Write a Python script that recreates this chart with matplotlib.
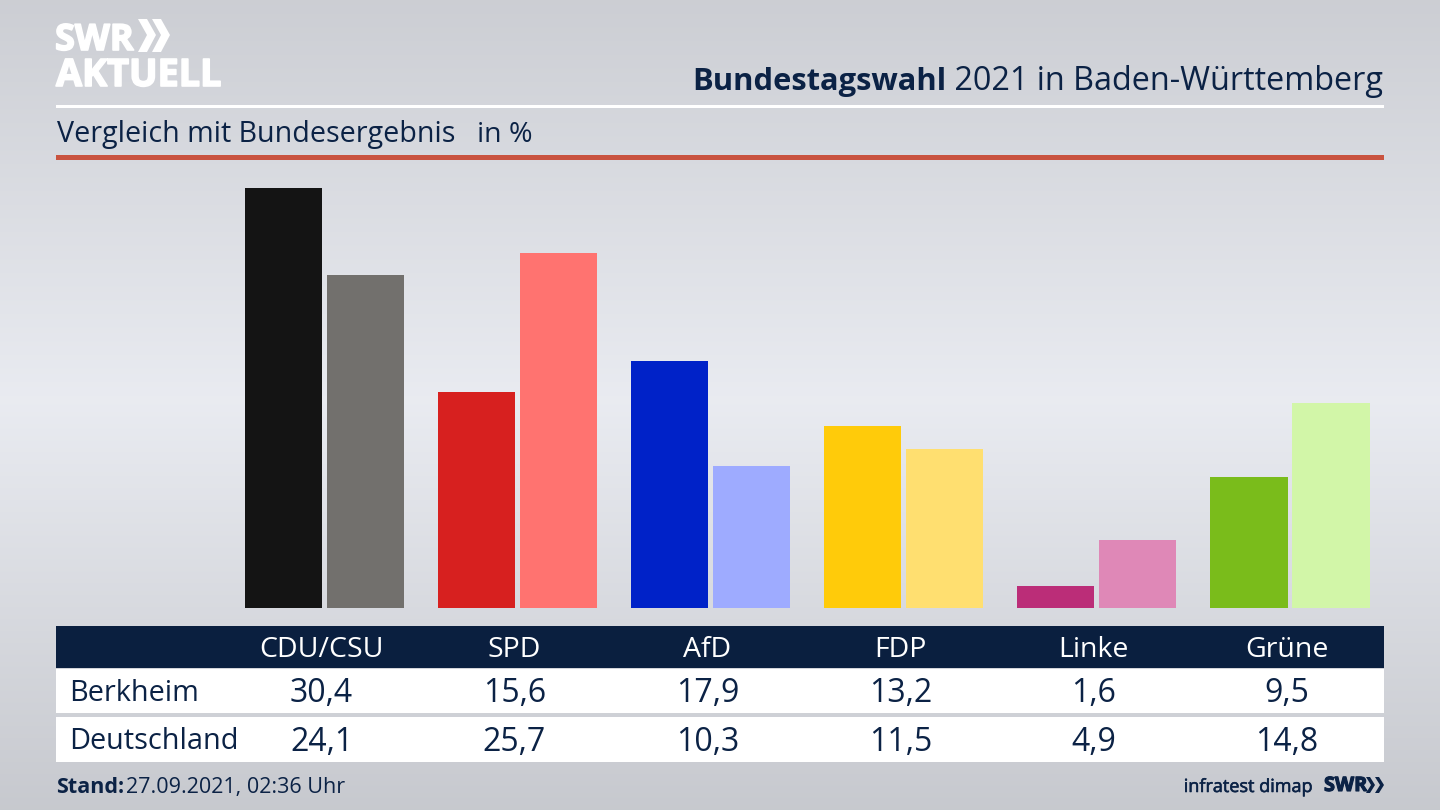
import numpy as np
import matplotlib
matplotlib.use('Agg')
import matplotlib.pyplot as plt
import matplotlib.patheffects as pe
from matplotlib.patches import Rectangle, Polygon

# data
parties = ['CDU/CSU', 'SPD', 'AfD', 'FDP', 'Linke', 'Grüne']
berkheim = [30.4, 15.6, 17.9, 13.2, 1.6, 9.5]
deutschland = [24.1, 25.7, 10.3, 11.5, 4.9, 14.8]
berkheim_labels = ['30,4', '15,6', '17,9', '13,2', '1,6', '9,5']
deutschland_labels = ['24,1', '25,7', '10,3', '11,5', '4,9', '14,8']
colors_dark = ['#141414', '#d7201f', '#0022c8', '#ffcb0a', '#bb2d78', '#7abc1b']
colors_light = ['#72706d', '#ff7370', '#9eabff', '#ffdf70', '#df88b7', '#d2f6a8']

NAVY = '#0b2245'
plt.rcParams['font.family'] = ['Open Sans', 'DejaVu Sans']

fig = plt.figure(figsize=(14.4, 8.1), dpi=100)

# full figure axes in pixels, for background, header and table
bg = fig.add_axes([0, 0, 1, 1])
bg.axis('off')

# background gradient, lightest around the middle
grad_y = [0, 400, 810]
grad_v = [0.80, 0.915, 0.78]
rows = np.interp(np.arange(810), grad_y, grad_v)
img = np.zeros((810, 1, 3))
img[:, 0, 0] = rows
img[:, 0, 1] = rows + 0.008
img[:, 0, 2] = rows + 0.03
bg.imshow(np.clip(img, 0, 1), extent=(0, 1440, 810, 0), aspect='auto', zorder=0)
bg.set_xlim(0, 1440)
bg.set_ylim(810, 0)

# logo
thick = [pe.withStroke(linewidth=1.2, foreground='white')]
bg.text(55, 50, 'SWR', color='white', fontsize=26, fontweight='bold', va='baseline', path_effects=thick)
bg.text(56, 86, 'AKTUELL', color='white', fontsize=27.2, fontweight='bold', va='baseline', path_effects=thick)
for x0 in (138, 152):
    bg.add_patch(Polygon([(x0, 19), (x0 + 9, 19), (x0 + 18, 35), (x0 + 9, 52), (x0, 52), (x0 + 9, 35)],
                         color='white', lw=0, zorder=3))

# header
t2 = bg.text(1383, 90, ' 2021 in Baden-Württemberg', color=NAVY, fontsize=23.3, ha='right', va='baseline')
fig.canvas.draw()
ext = t2.get_window_extent()
bg.text(ext.x0, 90, 'Bundestagswahl', color=NAVY, fontsize=22.2, fontweight='bold', ha='right', va='baseline')
bg.add_patch(Rectangle((56, 105), 1328, 2.5, color='white', lw=0, zorder=2))
bg.text(57, 142, 'Vergleich mit Bundesergebnis', color=NAVY, fontsize=20.65, va='baseline')
bg.text(477, 142, 'in %', color=NAVY, fontsize=20.5, va='baseline')
bg.add_patch(Rectangle((56, 155), 1328, 5, color='#c9533f', lw=0, zorder=2))

# bars
ax = fig.add_axes([56 / 1440, (810 - 608) / 810, 1328 / 1440, 448 / 810])
ax.patch.set_alpha(0)
ax.axis('off')
x = np.arange(len(parties))
ax.bar(x - 0.2124, berkheim, width=0.399, color=colors_dark)
ax.bar(x + 0.2124, deutschland, width=0.399, color=colors_light)
ax.set_xlim((56 - 324.5) / 193.1, (1384 - 324.5) / 193.1)
ax.set_ylim(0, 448 / 13.82)

# table
bg.add_patch(Rectangle((56, 626), 1328, 42, color='#0a1f3f', lw=0, zorder=2))
bg.add_patch(Rectangle((56, 669), 1328, 44, color='white', lw=0, zorder=2))
bg.add_patch(Rectangle((56, 717), 1328, 45, color='white', lw=0, zorder=2))
bg.text(69.5, 701, 'Berkheim', color=NAVY, fontsize=20.8, va='baseline', zorder=3)
bg.text(69.5, 749, 'Deutschland', color=NAVY, fontsize=20.8, va='baseline', zorder=3)
for i, name in enumerate(parties):
    cx = 321.5 + 193 * i
    bg.text(cx, 657, name, color='white', fontsize=20.5, ha='center', va='baseline', zorder=3)
    bg.text(cx, 702, berkheim_labels[i], color=NAVY, fontsize=23, ha='center', va='baseline', zorder=3)
    bg.text(cx, 751, deutschland_labels[i], color=NAVY, fontsize=23, ha='center', va='baseline', zorder=3)

# footer
bg.text(56, 793, 'Stand:', color=NAVY, fontsize=15.5, fontweight='bold', va='baseline')
bg.text(126, 793, '27.09.2021, 02:36 Uhr', color=NAVY, fontsize=15.5, va='baseline')
bg.text(1312, 792, 'infratest dimap', color=NAVY, fontsize=13, ha='right', va='baseline',
        path_effects=[pe.withStroke(linewidth=0.4, foreground=NAVY)])
bg.text(1324, 791, 'SWR', color=NAVY, fontsize=14.3, fontweight='bold', va='baseline',
        path_effects=[pe.withStroke(linewidth=0.8, foreground=NAVY)])
for x0 in (1366, 1375):
    bg.add_patch(Polygon([(x0, 777), (x0 + 4, 777), (x0 + 9, 785), (x0 + 4, 793), (x0, 793), (x0 + 5, 785)],
                         color=NAVY, lw=0, zorder=3))

fig.savefig('out.png', dpi=100)
